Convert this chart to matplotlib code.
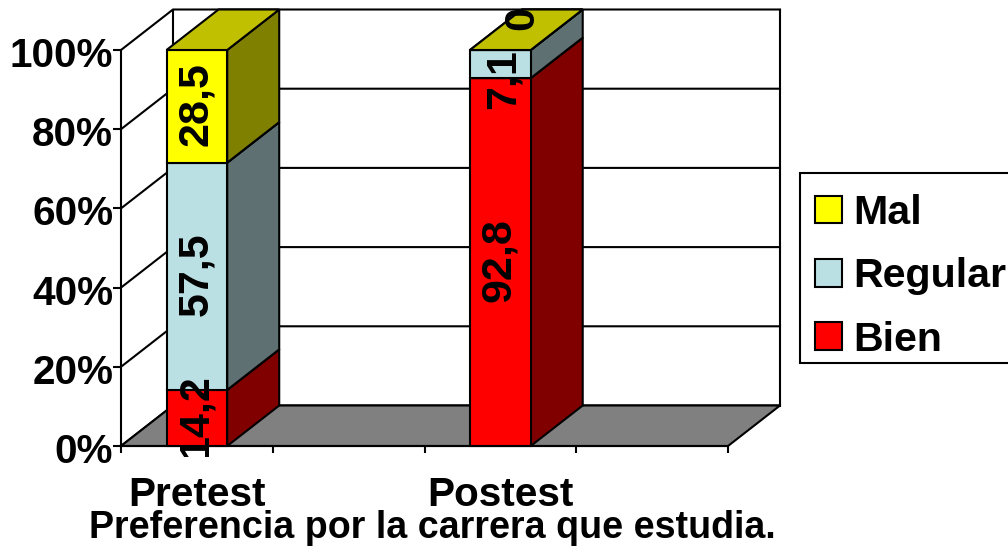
import matplotlib
matplotlib.use('Agg')
import matplotlib.pyplot as plt
from matplotlib.patches import Patch, Polygon, Rectangle
from matplotlib.transforms import Bbox, ScaledTranslation

plt.rcParams['font.family'] = ['Liberation Sans', 'DejaVu Sans']
plt.rcParams['font.weight'] = 'bold'
plt.rcParams['font.size'] = 29.2

# data
groups = ['Pretest', 'Postest']
group_pos = [0.5, 2.5]
series = ['Bien', 'Regular', 'Mal']
bien = [14.2, 92.8]
regular = [57.5, 7.1]
mal = [28.5, 0]
labels_bien = ['14,2', '92,8']
labels_regular = ['57,5', '7,1']
labels_mal = ['28,5', '0']
yticks = [0, 20, 40, 60, 80, 100]
title = 'Preferencia por la carrera que estudia.'

# colours: front, side, top
colors = {
    'Bien': ('#FF0000', '#800000', '#C00000'),
    'Regular': ('#BBE0E3', '#5E7072', '#8CA8AA'),
    'Mal': ('#FFFF00', '#808000', '#C0C000'),
}

fig = plt.figure(figsize=(10.08, 5.47), dpi=100, facecolor='white')
ax = fig.add_axes([121 / 1008, (547 - 446) / 547, 607 / 1008, 396 / 547])
ax.set_xlim(0, 4)
ax.set_ylim(0, 100)
ax.patch.set_visible(False)

# fake 3d depth, in data units
DX = 52 / (607 / 4)
DY = 40.5 / 3.96
BAR = 0.4
LW = 1.5


def poly(pts, fc, z):
    ax.add_patch(Polygon(pts, closed=True, fc=fc, ec='black', lw=LW, zorder=z, clip_on=False))


# floor and walls
poly([(0, 0), (4, 0), (4 + DX, DY), (DX, DY)], '#808080', 1)
for p in yticks:
    ax.plot([0, DX, 4 + DX], [p, p + DY, p + DY], color='black', lw=LW, zorder=0.5, clip_on=False)
ax.plot([DX, DX], [DY, 100 + DY], color='black', lw=LW, zorder=0.5, clip_on=False)
ax.plot([4 + DX, 4 + DX], [DY, 100 + DY], color='black', lw=LW, zorder=0.5, clip_on=False)

# stacked bars, normalised to 100%
stack = {'Bien': bien, 'Regular': regular, 'Mal': mal}
text_stack = {'Bien': labels_bien, 'Regular': labels_regular, 'Mal': labels_mal}
# nudges for the labels that were moved by hand (pixels)
nudge = {('Regular', 1): (3, -15), ('Mal', 1): (22, 32)}
clip = Bbox([[0, 547 - 457], [1008, 547 - 8]])

for i, x in enumerate(group_pos):
    total = bien[i] + regular[i] + mal[i]
    base = 0
    for j, name in enumerate(series):
        h = stack[name][i] / total * 100
        front, side, top = colors[name]
        l, r = x - BAR / 2, x + BAR / 2
        z = 2 + i + j * 0.1
        poly([(r, base), (r + DX, base + DY), (r + DX, base + h + DY), (r, base + h)], side, z)
        poly([(l, base), (r, base), (r, base + h), (l, base + h)], front, z)
        poly([(l, base + h), (r, base + h), (r + DX, base + h + DY), (l + DX, base + h + DY)], top, z)
        t = ax.annotate(text_stack[name][i], (x, base + h / 2),
                        xytext=nudge.get((name, i), (-1, 2)), textcoords='offset pixels',
                        rotation=90, ha='center', va='center', color='black', fontsize=31,
                        zorder=10, annotation_clip=False)
        t.set_clip_box(clip)
        t.set_clip_on(True)
        base += h

# axes
for s in ['top', 'right']:
    ax.spines[s].set_visible(False)
for s in ['left', 'bottom']:
    ax.spines[s].set_linewidth(LW)
    ax.spines[s].set_zorder(1.5)
ax.set_yticks(yticks)
ax.set_yticklabels([f'{p}%' for p in yticks])
ax.tick_params(axis='y', length=6, width=LW, pad=-0.4)
ax.set_xticks(range(5))
ax.set_xticklabels([])
ax.tick_params(axis='x', which='major', length=5, width=LW)
ax.set_xticks(group_pos, minor=True)
ax.set_xticklabels(groups, minor=True)
ax.tick_params(axis='x', which='minor', length=0, pad=21.5)

# y labels sit a little under their ticks in the original
down = ScaledTranslation(0, -2 / 100, fig.dpi_scale_trans)
for lab in ax.get_yticklabels():
    lab.set_transform(lab.get_transform() + down)

fig.text(432.5 / 1008, 1 - 528 / 547, title, ha='center', va='center', fontsize=27.05)

# legend box runs off the right edge of the picture
fig.add_artist(Rectangle((800 / 1008, 1 - 363 / 547), 220 / 1008, 190 / 547,
                         transform=fig.transFigure, fc='white', ec='black', lw=LW, zorder=-1))
handles = [Patch(fc=colors[n][0], ec='black', lw=LW) for n in reversed(series)]
leg = ax.legend(handles, list(reversed(series)), loc='upper left',
                bbox_to_anchor=(800 / 1008, 1 - 179 / 547), bbox_transform=fig.transFigure,
                frameon=False, borderaxespad=0, fontsize=29.6,
                handlelength=0.66, handleheight=0.66, handletextpad=0.28,
                labelspacing=0.62, borderpad=0.36)
leg.set_zorder(20)

fig.savefig('out.png', dpi=100)
